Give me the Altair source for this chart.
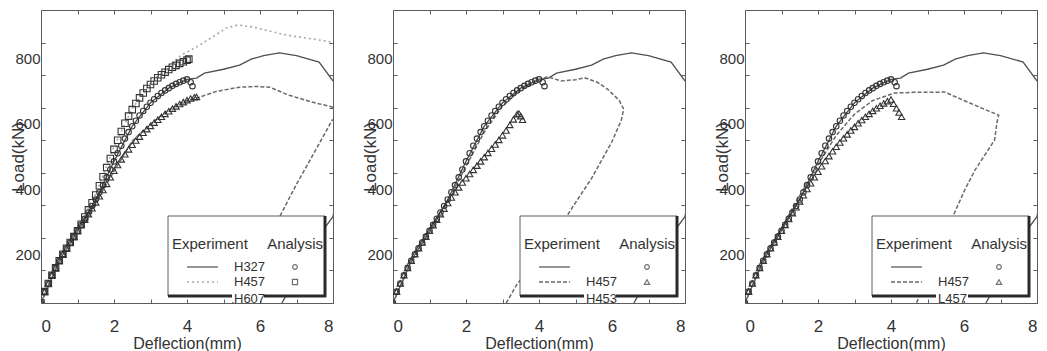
import altair as alt
import pandas as pd

# ---------------- data ----------------
x_tick_values = [0, 1, 2, 3, 4, 5, 6, 7, 8]
y_label_values = [200, 400, 600, 800]
y_minor_ticks = [50, 150, 250, 350, 450, 550, 650, 750, 850, 950]
X_DOMAIN = [0, 8]
Y_DOMAIN = [50, 950]

# Experiment H327 (solid) - same curve in the three panels
exp_h327_x = [0.0, 0.5, 1.0, 1.5, 2.0, 2.5, 3.0, 3.5, 4.0, 4.26, 4.48, 5.0, 5.44, 5.76, 6.1, 6.53,
              7.0, 7.62, 7.98, 8.3, 8.3, 8.0, 7.7, 7.2, 6.6]
exp_h327_y = [50, 180, 272, 368, 485, 593, 665, 710, 737, 741, 756, 768, 781, 799, 810, 818,
              810, 790, 735, 700, 500, 315, 270, 170, 50]

# Analysis H327 (circles) - same in the three panels
ana_h327_x = [0.0, 0.1, 0.2, 0.3, 0.4, 0.5, 0.6, 0.7, 0.8, 0.9, 1.0,
              1.1, 1.2, 1.3, 1.4, 1.5, 1.6, 1.7, 1.8, 1.9, 2.0,
              2.1, 2.2, 2.3, 2.4, 2.5, 2.6, 2.7, 2.8, 2.9, 3.0,
              3.1, 3.2, 3.3, 3.4, 3.5, 3.6, 3.7, 3.8, 3.9, 4.0, 4.1, 4.15]
ana_h327_y = [50, 85, 110, 135, 158, 180, 200, 218, 236, 254, 272,
              290, 309, 328, 348, 368, 390, 412, 436, 460, 485,
              510, 533, 555, 575, 593, 610, 626, 640, 653, 665,
              676, 686, 695, 703, 710, 717, 723, 728, 733, 737, 728, 716]

# Panel 1: Experiment H457 (dotted)
p1_exp_h457_x = [0.0, 0.5, 1.0, 1.5, 2.0, 2.5, 3.0, 3.5, 3.85, 4.26, 4.7, 5.08, 5.39, 5.8,
                 6.17, 6.6, 7.0, 7.5, 7.98, 8.3]
p1_exp_h457_y = [50, 185, 280, 385, 530, 648, 725, 778, 812, 836, 867, 895, 904, 898,
                 888, 876, 868, 860, 851, 840]
# Panel 1: Experiment H607 (dashed)
p1_exp_h607_x = [0.0, 0.5, 1.0, 1.5, 2.0, 2.5, 3.0, 3.5, 4.0, 4.34, 4.8, 5.44, 5.9, 6.26, 6.8,
                 7.4, 7.98, 8.3, 8.3, 7.98, 7.5, 7.0, 6.53, 6.0, 5.5, 5.25]
p1_exp_h607_y = [50, 180, 270, 358, 455, 548, 600, 643, 672, 682, 700, 713, 715, 713, 688,
                 668, 652, 640, 625, 612, 515, 415, 313, 210, 105, 50]
# Panel 1: Analysis H457 (squares)
p1_ana_h457_x = [0.0, 0.1, 0.2, 0.3, 0.4, 0.5, 0.6, 0.7, 0.8, 0.9, 1.0,
                 1.1, 1.2, 1.3, 1.4, 1.5, 1.6, 1.7, 1.8, 1.9, 2.0,
                 2.1, 2.2, 2.3, 2.4, 2.5, 2.6, 2.7, 2.8, 2.9, 3.0,
                 3.1, 3.2, 3.3, 3.4, 3.5, 3.6, 3.7, 3.8, 3.9, 4.0, 4.05]
p1_ana_h457_y = [50, 85, 110, 135, 158, 180, 200, 218, 236, 254, 272,
                 292, 314, 336, 358, 382, 410, 438, 466, 494, 522,
                 550, 577, 602, 624, 644, 663, 680, 695, 709, 721,
                 732, 742, 751, 759, 767, 774, 780, 786, 791, 796, 799]
# Panel 1: Analysis H607 (triangles)
p1_ana_h607_x = [0.0, 0.1, 0.2, 0.3, 0.4, 0.5, 0.6, 0.7, 0.8, 0.9, 1.0,
                 1.1, 1.2, 1.3, 1.4, 1.5, 1.6, 1.7, 1.8, 1.9, 2.0,
                 2.1, 2.2, 2.3, 2.4, 2.5, 2.6, 2.7, 2.8, 2.9, 3.0,
                 3.1, 3.2, 3.3, 3.4, 3.5, 3.6, 3.7, 3.8, 3.9, 4.0, 4.1, 4.2, 4.26]
p1_ana_h607_y = [50, 85, 110, 135, 158, 180, 200, 218, 236, 254, 272,
                 289, 306, 323, 341, 359, 378, 397, 416, 436, 456,
                 474, 491, 507, 522, 536, 549, 561, 573, 584, 594,
                 604, 613, 622, 631, 639, 647, 654, 661, 667, 673, 678, 682, 683]

# Panel 2: Experiment H457 (dashed)
p2_exp_h457_x = [0.0, 0.5, 1.0, 1.5, 2.0, 2.5, 3.0, 3.5, 4.0, 4.23, 4.6, 5.0, 5.25, 5.6, 5.9,
                 6.2, 6.32, 6.25, 6.0, 5.44, 4.9, 4.15, 3.4, 3.1]
p2_exp_h457_y = [50, 178, 268, 362, 470, 575, 655, 705, 735, 745, 732, 736, 742, 728, 705,
                 672, 645, 610, 546, 433, 341, 209, 108, 50]
# Panel 2: Analysis H457 (triangles)
p2_ana_h457_x = [0.0, 0.1, 0.2, 0.3, 0.4, 0.5, 0.6, 0.7, 0.8, 0.9, 1.0,
                 1.1, 1.2, 1.3, 1.4, 1.5, 1.6, 1.7, 1.8, 1.9, 2.0,
                 2.1, 2.2, 2.3, 2.4, 2.5, 2.6, 2.7, 2.8, 2.9, 3.0,
                 3.1, 3.2, 3.3, 3.4, 3.45, 3.5, 3.55]
p2_ana_h457_y = [50, 85, 110, 135, 158, 180, 200, 218, 236, 254, 272,
                 289, 306, 323, 340, 357, 374, 390, 405, 420, 433,
                 446, 459, 472, 485, 498, 511, 524, 537, 551, 565,
                 580, 597, 614, 630, 632, 624, 613]

# Panel 3: Experiment H457 (dashed)
p3_exp_h457_x = [0.0, 0.5, 1.0, 1.5, 2.0, 2.5, 3.0, 3.5, 4.1, 4.6, 5.0, 5.47, 6.0, 6.5, 6.95,
                 6.9, 6.84, 6.3, 6.02, 5.7, 5.2, 4.7]
p3_exp_h457_y = [50, 182, 280, 380, 475, 565, 630, 672, 695, 697, 697, 698, 672, 648, 627,
                 603, 551, 458, 397, 317, 190, 50]
# Panel 3: Analysis H457 (triangles)
p3_ana_h457_x = [0.0, 0.1, 0.2, 0.3, 0.4, 0.5, 0.6, 0.7, 0.8, 0.9, 1.0,
                 1.1, 1.2, 1.3, 1.4, 1.5, 1.6, 1.7, 1.8, 1.9, 2.0,
                 2.1, 2.2, 2.3, 2.4, 2.5, 2.6, 2.7, 2.8, 2.9, 3.0,
                 3.1, 3.2, 3.3, 3.4, 3.5, 3.6, 3.7, 3.8, 3.9, 4.0, 4.07, 4.15, 4.22, 4.29]
p3_ana_h457_y = [50, 85, 110, 135, 158, 180, 200, 218, 236, 254, 272,
                 290, 308, 326, 344, 362, 381, 400, 418, 436, 453,
                 470, 486, 501, 516, 530, 543, 556, 568, 580, 591,
                 602, 612, 622, 631, 640, 648, 656, 663, 670, 675, 662, 648, 635, 622]

legend_titles = ["Experiment", "Analysis"]
legend_rows_p1 = ["H327", "H457", "H607"]
legend_rows_p2 = ["", "H457", "H453"]
legend_rows_p3 = ["", "H457", "L457"]

# ---------------- styling ----------------
W, H = 292, 293
FONT = "Liberation Sans"
FRAME = "#5c5c5c"
TEXT = "#333333"
MK = "#333333"
SOLID_C = "#505050"
DASH_C = "#6a6a6a"
DOT_C = "#a8a8a8"
DASH = [4, 2]
DOT = [2, 3]
CIRC, SQ, TRI = 30, 42, 40


def frame_df(xs, ys):
    return pd.DataFrame({"x": xs, "y": ys, "i": list(range(len(xs)))})


def xenc():
    return alt.X("x:Q", scale=alt.Scale(domain=X_DOMAIN, nice=False, zero=False),
                 axis=alt.Axis(values=x_tick_values, grid=True, gridDash=[4, H - 8, 4, 1000],
                               gridColor=FRAME, gridWidth=1, gridOpacity=1, ticks=False, domain=False,
                               labelExpr="datum.value % 2 === 0 ? datum.label : ''",
                               labelPadding=15, labelFontSize=17, labelColor=TEXT,
                               labelFont=FONT, title="Deflection(mm)", titleFontSize=16,
                               titleFontWeight="normal", titlePadding=1, titleColor=TEXT,
                               titleFont=FONT))


def yleft():
    return alt.Y("y:Q", scale=alt.Scale(domain=Y_DOMAIN, nice=False, zero=False),
                 axis=alt.Axis(values=y_label_values, grid=False, ticks=False, domain=False,
                               labelPadding=1, labelFontSize=15, labelColor=TEXT, labelFont=FONT,
                               title="Load(kN)", titleFontSize=17, titleFontWeight="normal",
                               titleColor=TEXT, titleFont=FONT, titleAngle=270, titleX=-14,
                               titleY=H / 2, titleAlign="center", titleBaseline="bottom"))


def yright():
    return alt.Y("y:Q", scale=alt.Scale(domain=Y_DOMAIN, nice=False, zero=False),
                 axis=alt.Axis(orient="right", values=y_minor_ticks, grid=True,
                               gridDash=[4, W - 8, 4, 1000], gridColor=FRAME, gridWidth=1,
                               gridOpacity=1, ticks=False, domain=False, labels=False, title=""))


def line(df, color, width, dash=None, right=False):
    kw = dict(clip=True, color=color, strokeWidth=width)
    if dash:
        kw["strokeDash"] = dash
    return alt.Chart(df).mark_line(**kw).encode(
        x=xenc(), y=yright() if right else yleft(), order="i:Q")


def pts(df, shape, size):
    return alt.Chart(df).mark_point(shape=shape, size=size, filled=False, clip=True,
                                    color=MK, strokeWidth=1.1, opacity=1).encode(x=xenc(), y=yleft())


def legend(rows, row2_color, row2_dash, row2_shape, row2_size):
    one = pd.DataFrame({"k": [0]})
    b = alt.Chart(one)
    bx0, bx1, by0, by1 = 127, 284, 206, 286
    r1, r2, r3 = 257, 272, 289
    lx0, lx1, tx, mx = 146, 177, 193, 254
    L = [
        b.mark_rect(fill="white", stroke=FRAME, strokeWidth=1).encode(
            x=alt.value(bx0), x2=alt.value(bx1), y=alt.value(by0), y2=alt.value(by1)),
        b.mark_rule(color="#2a2a2a", strokeWidth=3).encode(
            x=alt.value(bx0), x2=alt.value(bx1 + 1), y=alt.value(by1)),
        b.mark_rule(color="#2a2a2a", strokeWidth=3).encode(
            x=alt.value(bx1), y=alt.value(by0), y2=alt.value(by1 + 1)),
        b.mark_text(text=legend_titles[0], align="left", baseline="middle", fontSize=15,
                    color=TEXT, font=FONT).encode(x=alt.value(bx0 + 4), y=alt.value(234)),
        b.mark_text(text=legend_titles[1], align="right", baseline="middle", fontSize=15,
                    color=TEXT, font=FONT).encode(x=alt.value(bx1 - 2), y=alt.value(234)),
        b.mark_rule(color=SOLID_C, strokeWidth=1.2).encode(
            x=alt.value(lx0), x2=alt.value(lx1), y=alt.value(r1)),
        b.mark_rule(color=row2_color, strokeWidth=1.5, strokeDash=row2_dash).encode(
            x=alt.value(lx0), x2=alt.value(lx1), y=alt.value(r2)),
        b.mark_point(shape="circle", size=22, filled=False, color=MK, strokeWidth=1.2).encode(
            x=alt.value(mx), y=alt.value(r1)),
        b.mark_point(shape=row2_shape, size=row2_size, filled=False, color=MK, strokeWidth=1.2).encode(
            x=alt.value(mx), y=alt.value(r2)),
    ]
    for lab, ry in zip(rows, [r1, r2, r3]):
        if lab:
            if ry == r3:
                L.append(b.mark_rect(fill="white").encode(
                    x=alt.value(tx - 2), x2=alt.value(tx + 30), y=alt.value(ry - 6),
                    y2=alt.value(ry + 2)))
            L.append(b.mark_text(text=lab, align="left", baseline="middle", fontSize=13,
                                 color=TEXT, font=FONT).encode(x=alt.value(tx), y=alt.value(ry)))
    return alt.layer(*L)


exp327 = frame_df(exp_h327_x, exp_h327_y)
ana327 = frame_df(ana_h327_x, ana_h327_y)

# Panel 1
p1 = alt.layer(
    line(exp327, SOLID_C, 1.3, right=True),
    alt.layer(
        line(frame_df(p1_exp_h457_x, p1_exp_h457_y), DOT_C, 1.6, DOT),
        line(frame_df(p1_exp_h607_x, p1_exp_h607_y), DASH_C, 1.5, DASH),
        pts(ana327, "circle", CIRC),
        pts(frame_df(p1_ana_h457_x, p1_ana_h457_y), "square", SQ),
        pts(frame_df(p1_ana_h607_x, p1_ana_h607_y), "triangle-up", TRI),
    ),
    legend(legend_rows_p1, DOT_C, DOT, "square", 26),
).resolve_scale(y="independent").properties(width=W, height=H)

# Panel 2
p2 = alt.layer(
    line(exp327, SOLID_C, 1.3, right=True),
    alt.layer(
        line(frame_df(p2_exp_h457_x, p2_exp_h457_y), DASH_C, 1.5, DASH),
        pts(ana327, "circle", CIRC),
        pts(frame_df(p2_ana_h457_x, p2_ana_h457_y), "triangle-up", TRI),
    ),
    legend(legend_rows_p2, DASH_C, DASH, "triangle-up", 28),
).resolve_scale(y="independent").properties(width=W, height=H)

# Panel 3
p3 = alt.layer(
    line(exp327, SOLID_C, 1.3, right=True),
    alt.layer(
        line(frame_df(p3_exp_h457_x, p3_exp_h457_y), DASH_C, 1.5, DASH),
        pts(ana327, "circle", CIRC),
        pts(frame_df(p3_ana_h457_x, p3_ana_h457_y), "triangle-up", TRI),
    ),
    legend(legend_rows_p3, DASH_C, DASH, "triangle-up", 28),
).resolve_scale(y="independent").properties(width=W, height=H)

chart = alt.hconcat(p1, p2, p3, spacing=60, bounds="flush").properties(
    padding={"left": 0, "top": 1, "right": 0, "bottom": 0},
    background="white",
).configure_view(stroke=FRAME, strokeWidth=1)

chart.save("out.html", embed_options={"renderer": "svg", "actions": False})
